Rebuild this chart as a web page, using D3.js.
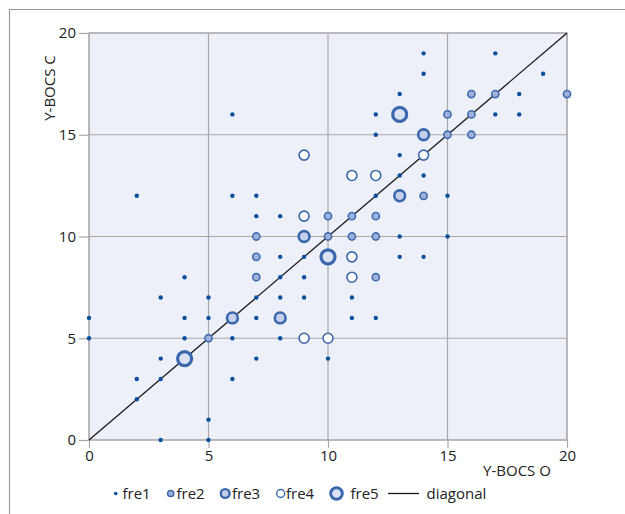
<!DOCTYPE html>
<html><head><meta charset="utf-8">
<script src="https://cdn.jsdelivr.net/npm/d3@7"></script>
<style>body{margin:0;background:#fff;} svg{display:block;} text{font-family:"Open Sans","Noto Sans",sans-serif;fill:#222;}</style>
</head><body>
<svg id="c" width="625" height="514"></svg>
<script>
const xTicks = [0,5,10,15,20];
const yTicks = [0,5,10,15,20];
const fre1 = [[6,16],[2,12],[6,12],[7,12],[7,11],[8,11],[14,19],[17,19],[14,18],[19,18],[13,17],[18,17],[12,16],[17,16],[18,16],[12,15],[13,14],[13,13],[14,13],[12,12],[15,12],[13,10],[15,10],[8,9],[9,9],[4,8],[8,8],[9,8],[3,7],[5,7],[7,7],[8,7],[9,7],[0,6],[4,6],[5,6],[7,6],[0,5],[4,5],[6,5],[8,5],[3,4],[7,4],[10,4],[2,3],[3,3],[6,3],[2,2],[5,1],[3,0],[5,0],[13,9],[14,9],[11,7],[11,6],[12,6]];
const fre2 = [[10,11],[7,10],[10,10],[16,17],[17,17],[20,17],[15,16],[16,16],[15,15],[16,15],[14,12],[11,11],[12,11],[11,10],[12,10],[7,9],[7,8],[5,5],[12,8]];
const fre3 = [[9,10],[14,15],[13,12],[6,6],[8,6]];
const fre4 = [[9,14],[9,11],[14,14],[11,13],[12,13],[9,5],[10,5],[11,9],[11,8]];
const fre5 = [[13,16],[10,9],[4,4]];
const diagonal = [[0,0],[20,20]];
const seriesNames = ["fre1","fre2","fre3","fre4","fre5"];

const styles = {
  fre1:{r:2.2, fill:"#0a4f9e", stroke:"none", sw:0},
  fre2:{r:3.6, fill:"#9fb1d9", stroke:"#3f6db0", sw:1.6},
  fre3:{r:5.4, fill:"#c6cfea", stroke:"#3a67ae", sw:2.6},
  fre4:{r:5.0, fill:"#ffffff", stroke:"#3a67ae", sw:1.6},
  fre5:{r:7.0, fill:"#dce2f1", stroke:"#3a67ae", sw:3.2}
};
const data = {fre1,fre2,fre3,fre4,fre5};

const svg = d3.select("#c");
const x = d3.scaleLinear().domain([0,20]).range([89,567]);
const y = d3.scaleLinear().domain([0,20]).range([440,33]);

// frame
svg.append("path").attr("d","M9.5,514 L9.5,9.5 L625,9.5").attr("fill","none").attr("stroke","#999").attr("stroke-width",1.2);

svg.append("rect").attr("x",x(0)).attr("y",y(20)).attr("width",x(20)-x(0)).attr("height",y(0)-y(20))
  .attr("fill","#edf0f8").attr("stroke","#b0b0b0").attr("stroke-width",1.2);

const g = svg.append("g");
g.selectAll(".vg").data(xTicks).join("line").attr("x1",d=>x(d)).attr("x2",d=>x(d)).attr("y1",y(0)).attr("y2",y(20)).attr("stroke","#a8a8a8").attr("stroke-width",1.2);
g.selectAll(".hg").data(yTicks).join("line").attr("y1",d=>y(d)).attr("y2",d=>y(d)).attr("x1",x(0)).attr("x2",x(20)).attr("stroke","#a8a8a8").attr("stroke-width",1.2);

const xa = svg.append("g").attr("transform",`translate(0,${y(0)})`)
  .call(d3.axisBottom(x).tickValues(xTicks).tickSize(8).tickPadding(2));
const ya = svg.append("g").attr("transform",`translate(${x(0)},0)`)
  .call(d3.axisLeft(y).tickValues(yTicks).tickSize(10).tickPadding(3));
[xa,ya].forEach(a=>{
  a.select(".domain").remove();
  a.selectAll("line").attr("stroke","#a8a8a8").attr("stroke-width",1.2);
  a.selectAll("text").style("font-size","15px").style("font-family",'"Open Sans","Noto Sans",sans-serif').attr("fill","#222");
});

svg.append("text").attr("x",517).attr("y",476).attr("text-anchor","middle").style("font-size","15px").text("Y-BOCS O");
svg.append("text").attr("transform","translate(55,88) rotate(-90)").attr("text-anchor","middle").style("font-size","15px").text("Y-BOCS C");

// diagonal
svg.append("path").datum(diagonal).attr("d",d3.line().x(d=>x(d[0])).y(d=>y(d[1])))
  .attr("stroke","#1a1a1a").attr("stroke-width",1.3).attr("fill","none");

seriesNames.forEach(n=>{
  const s = styles[n];
  svg.append("g").selectAll("circle").data(data[n]).join("circle")
    .attr("cx",d=>x(d[0])).attr("cy",d=>y(d[1])).attr("r",s.r)
    .attr("fill",s.fill).attr("stroke",s.stroke).attr("stroke-width",s.sw);
});

// legend
const lg = svg.append("g");
const lx = [115.7,170.7,225.2,280.7,336.5];
const tx = [122.5,176.5,232,286,350.5];
const ly = 493.5;
const lr = {fre1:1.8, fre2:3.1, fre3:4.4, fre4:4.0, fre5:5.8};
const lsw = {fre1:0, fre2:1.5, fre3:2.4, fre4:1.4, fre5:2.9};
seriesNames.forEach((n,i)=>{
  const s = styles[n];
  lg.append("circle").attr("cx",lx[i]).attr("cy",ly).attr("r",lr[n]).attr("fill",s.fill).attr("stroke",s.stroke).attr("stroke-width",lsw[n]);
  lg.append("text").attr("x",tx[i]).attr("y",ly+5.5).style("font-size","15px").text(n);
});
lg.append("line").attr("x1",388).attr("x2",419).attr("y1",ly).attr("y2",ly).attr("stroke","#1a1a1a").attr("stroke-width",1.3);
lg.append("text").attr("x",426.5).attr("y",ly+5.5).style("font-size","15px").text("diagonal");
</script>
</body></html>
